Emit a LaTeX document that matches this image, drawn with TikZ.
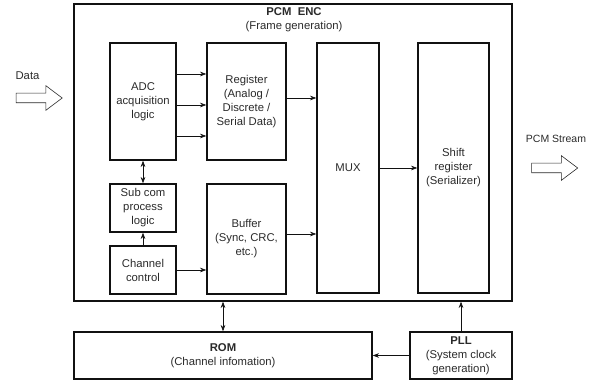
\documentclass[tikz,border=0pt]{standalone}
\usepackage{fontspec}
\setmainfont{Liberation Sans}
\usetikzlibrary{arrows.meta,positioning,shapes.arrows}
\definecolor{pcmline}{HTML}{111111}
\definecolor{pcmtext}{HTML}{2A2A2A}
\tikzset{
  blk/.style={draw=pcmline,line width=1.4pt,align=center,inner sep=0pt,text=pcmtext},
  link/.style={-{Stealth[length=2.2mm,width=1.6mm]},line width=.6pt,pcmline},
  bilink/.style={{Stealth[length=2.2mm,width=1.6mm]}-{Stealth[length=2.2mm,width=1.6mm]},line width=.6pt,pcmline},
  hollow/.style={single arrow,draw=pcmtext,line width=.6pt,minimum height=46pt,
    inner sep=4.5pt,single arrow head extend=7.5pt,single arrow tip angle=74},
  tag/.style={align=center,inner sep=0pt,text=pcmtext}
}

\begin{document}
\begin{tikzpicture}[x=1pt,y=-1pt,font=\fontsize{11.3}{14}\selectfont]
  \useasboundingbox (0,0) rectangle (592,382);
  % encoder frame and its blocks
  \node[blk,minimum width=438pt,minimum height=297pt] (enc) at (293,152.5) {};
  \node[tag] (title) at (294,20) {\textbf{PCM\ \ ENC}\\(Frame generation)};
  \node[blk,minimum width=66pt,minimum height=117pt] (adc) at (143,101.5) {ADC\\acquisition\\logic};
  \node[blk,minimum width=79pt,minimum height=117pt] (reg) at (246.5,101.5) {Register\\(Analog /\\Discrete /\\Serial Data)};
  \node[blk,minimum width=62pt,minimum height=250pt] (mux) at (348,168) {MUX};
  \node[blk,minimum width=71pt,minimum height=250pt] (shift) at (453.5,168) {Shift\\register\\(Serializer)};
  \node[blk,minimum width=66pt,minimum height=48pt] (subcom) at (143,208) {Sub com\\process\\logic};
  \node[blk,minimum width=66pt,minimum height=48pt] (chan) at (143,270) {Channel\\control};
  \node[blk,minimum width=79pt,minimum height=110pt] (buf) at (246.5,239) {Buffer\\(Sync, CRC,\\etc.)};
  % blocks below the frame
  \node[blk,minimum width=298pt,minimum height=47pt] (rom) at (223,355.5) {\textbf{ROM}\\(Channel infomation)};
  \node[blk,minimum width=102pt,minimum height=47pt] (pll) at (461,355.5) {\textbf{PLL}\\(System clock\\generation)};
  % input and output
  \node[tag] (datalbl) at (27.5,76) {Data};
  \node[hollow] (datain) at (36,98) {};
  \node[tag,font=\fontsize{10.5}{13}\selectfont] (outlbl) at (556,139) {PCM Stream};
  \node[hollow] (pcmout) at (551.5,168) {};
  % connectors
  \foreach \dy in {31,0,-31}
    \draw[link] ([yshift=\dy pt-3.5pt]adc.east) -- ([yshift=\dy pt-3.5pt]adc.east -| reg.west);
  \draw[link] ([yshift=3.5pt]reg.east) -- ([yshift=3.5pt]reg.east -| mux.west);
  \draw[link] ([yshift=5pt]buf.east) -- ([yshift=5pt]buf.east -| mux.west);
  \draw[link] (chan.east) -- (chan.east -| buf.west);
  \draw[link] (mux.east) -- (mux.east -| shift.west);
  \draw[bilink] (adc.south) -- (subcom.north);
  \draw[link] (chan.north) -- (subcom.south);
  \draw[bilink] (rom.north) -- (rom.north |- enc.south);
  \draw[link] (pll.north) -- (pll.north |- enc.south);
  \draw[link] (pll.west) -- (rom.east);
\end{tikzpicture}
\end{document}
